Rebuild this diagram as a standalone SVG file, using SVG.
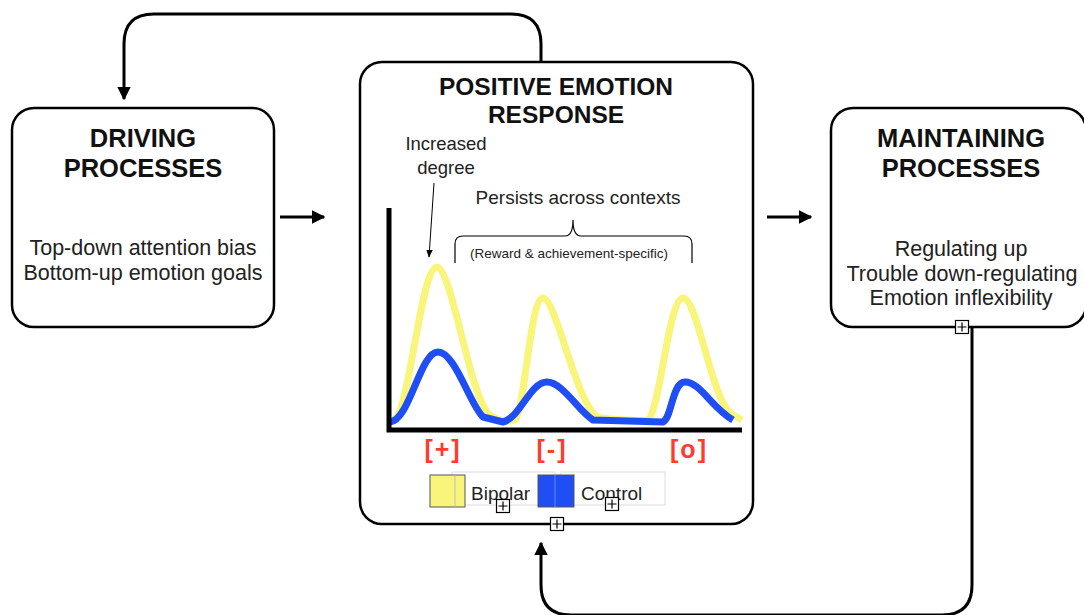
<svg xmlns="http://www.w3.org/2000/svg" width="1084" height="615" viewBox="0 0 1084 615">
<style>
.box{fill:#fff;stroke:#000;stroke-width:2.5}
.t{font-family:"Liberation Sans",Arial,sans-serif;fill:#222;text-anchor:middle}
.h{font-weight:bold;font-size:25.5px;fill:#111}
.hc{font-weight:bold;font-size:24.5px;fill:#111}
.b{font-size:21.5px}
.con{fill:none;stroke:#000;stroke-width:3}
.red{font-family:"Liberation Sans",Arial,sans-serif;font-weight:bold;font-size:25px;letter-spacing:2px;fill:#ff3b2f;text-anchor:middle}
.pl{fill:#fff;stroke:#000;stroke-width:1.2}
</style>
<defs>
<marker id="ah" viewBox="0 0 10 10" refX="9" refY="5" markerWidth="4.5" markerHeight="4.5" orient="auto" markerUnits="strokeWidth">
<path d="M0,0 L10,5 L0,10 z" fill="#000"/>
</marker>
<marker id="ah2" viewBox="0 0 10 10" refX="9" refY="5" markerWidth="8" markerHeight="8" orient="auto" markerUnits="strokeWidth">
<path d="M0,1 L10,5 L0,9 z" fill="#000"/>
</marker>
<g id="plus"><rect class="pl" x="-6.5" y="-6.5" width="13" height="13"/><path d="M-4.5,0 H4.5 M0,-4.5 V4.5" stroke="#000" stroke-width="1.2"/></g>
</defs>
<g id="connectors">
<path class="con" d="M541,62 V44 Q541,14 511,14 H154 Q124,14 124,44 V99" marker-end="url(#ah)"/>
<path class="con" d="M972,327 V585 Q972,615 942,615 H571 Q541,615 541,585 V543" marker-end="url(#ah)"/>
<path class="con" d="M280,217 H324" marker-end="url(#ah)"/>
<path class="con" d="M767,217 H811" marker-end="url(#ah)"/>
</g>
<g id="driving">
<rect class="box" x="12" y="108" width="262" height="219" rx="22"/>
<text class="t h" x="143" y="147">DRIVING</text>
<text class="t h" x="143" y="177">PROCESSES</text>
<text class="t b" x="143" y="255">Top-down attention bias</text>
<text class="t b" x="143" y="280">Bottom-up emotion goals</text>
</g>
<g id="maintaining">
<rect class="box" x="831" y="108" width="255" height="219" rx="22"/>
<text class="t h" x="961" y="147">MAINTAINING</text>
<text class="t h" x="961" y="177">PROCESSES</text>
<text class="t b" x="961" y="256">Regulating up</text>
<text class="t b" x="962" y="281">Trouble down-regulating</text>
<text class="t b" x="961" y="305">Emotion inflexibility</text>
<use href="#plus" x="962" y="327"/>
</g>
<g id="response">
<rect class="box" x="360" y="62" width="393" height="462" rx="22"/>
<text class="t hc" x="556" y="95">POSITIVE EMOTION</text>
<text class="t hc" x="556" y="123">RESPONSE</text>
<text class="t" x="446" y="150" font-size="18.5">Increased</text>
<text class="t" x="446" y="174" font-size="18.5">degree</text>
<path d="M434,183 L429,257" stroke="#000" stroke-width="1" fill="none" marker-end="url(#ah2)"/>
<text class="t" x="578" y="204" font-size="19">Persists across contexts</text>
<path d="M455,263 V244 Q455,236 463,236 H565 Q573,236 573,220 Q573,236 581,236 H684 Q692,236 692,244 V263" fill="none" stroke="#000" stroke-width="1.2"/>
<text class="t" x="569" y="258" font-size="13.5">(Reward &amp; achievement-specific)</text>
<path d="M393,420 C410,415 420,268 437,267 C452,268 470,400 490,415 C500,422 510,422 515,420 C525,410 530,298 543,298 C556,298 575,400 597,417 C610,420 640,421 647,420 C660,416 668,298 683,298 C698,298 712,405 733,415 L742,420" fill="none" stroke="#f9f57a" stroke-width="7" stroke-linejoin="round"/>
<path d="M390,422 C410,420 420,352 438,352 C455,352 470,405 483,417 L503,422 C520,418 530,382 547,382 C562,382 578,410 593,420 L663,422 C672,418 672,382 685,382 C700,382 712,408 733,420" fill="none" stroke="#1f4ef5" stroke-width="7" stroke-linejoin="round"/>
<path d="M389,208 V430 H742" fill="none" stroke="#000" stroke-width="5"/>
<text class="red" x="443" y="458">[+]</text>
<text class="red" x="552" y="458">[-]</text>
<text class="red" x="689" y="458">[o]</text>
<rect x="452" y="472" width="103" height="33" fill="none" stroke="#ddd" stroke-width="1"/>
<rect x="561" y="472" width="104" height="33" fill="none" stroke="#ddd" stroke-width="1"/>
<rect x="430" y="475" width="35" height="32" fill="#f9f57a" stroke="#555" stroke-width="1"/>
<line x1="455" y1="475" x2="455" y2="507" stroke="#bbb" stroke-width="1"/>
<rect x="538" y="475" width="36" height="32" fill="#1f4ef5" stroke="#555" stroke-width="1"/>
<line x1="555" y1="475" x2="555" y2="507" stroke="#6b87f0" stroke-width="1"/>
<text class="t" x="471" y="500" font-size="19" style="text-anchor:start">Bipolar</text>
<text class="t" x="581" y="500" font-size="19" style="text-anchor:start">Control</text>
<use href="#plus" x="503" y="506"/>
<use href="#plus" x="612" y="504"/>
<use href="#plus" x="557" y="524"/>
</g>
</svg>
